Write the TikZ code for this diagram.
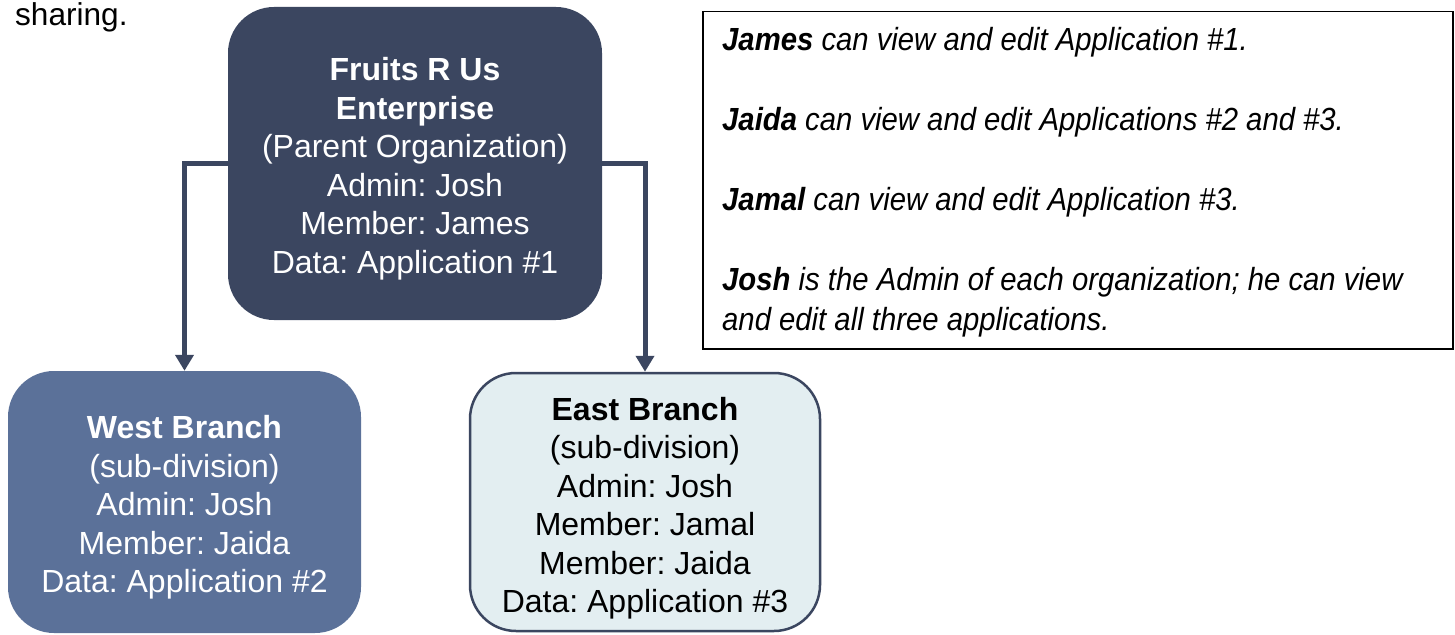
\documentclass[tikz,border=0pt]{standalone}
\usepackage{fontspec}
\setmainfont{Liberation Sans}
\newfontfamily\notefont[FakeStretch=0.915]{Liberation Sans}
\usetikzlibrary{arrows.meta}
\frenchspacing
\definecolor{dark}{HTML}{3B4660}
\definecolor{mid}{HTML}{5B7199}
\definecolor{pale}{HTML}{E3EEF1}
\begin{document}
\begin{tikzpicture}[x=1pt,y=-1pt,
  box/.style={rounded corners=46pt, align=center, inner sep=0pt,
    font=\frenchspacing\fontsize{32}{38.5}\selectfont},
  conn/.style={draw=dark, line width=5pt, -{Triangle[width=18pt,length=16pt]}}]
\useasboundingbox (0,0) rectangle (1455,634);
\fill[white] (0,0) rectangle (1455,634);
\node[anchor=base west, inner sep=0pt, font=\fontsize{31.6}{38.5}\selectfont] (sharing) at (15,26) {sharing.};
\node[box, fill=dark, text=white, minimum width=374pt, minimum height=313pt] (top) at (415,163.5)
  {\rule{0pt}{34pt}\textbf{Fruits R Us}\\ \textbf{Enterprise}\\ (Parent Organization)\\ Admin: Josh\\ Member: James\\ Data: Application \#1};
\node[box, fill=mid, text=white, minimum width=353pt, minimum height=262pt] (west) at (184.5,502)
  {\rule{0pt}{34pt}\textbf{West Branch}\\ (sub-division)\\ Admin: Josh\\ Member: Jaida\\ Data: Application \#2};
\node[box, fill=pale, draw=dark, line width=2.5pt, text=black, minimum width=350pt, minimum height=258pt] (east) at (645,502)
  {\rule{0pt}{36pt}\textbf{East Branch}\\ (sub-division)\\ Admin: Josh\\ Member: Jamal\\ Member: Jaida\\ Data: Application \#3};
\draw[conn] (top.west) -| (west.north);
\draw[conn] (top.east) -| (east.north);
\node[draw=black, line width=1.5pt, anchor=north west, minimum width=750pt, minimum height=337pt, inner sep=0pt] (note) at (702,11) {};
\node[anchor=north west, inner sep=0pt, align=left, font=\frenchspacing\notefont\itshape\fontsize{32}{40}\selectfont] (notetext) at (722,27.5)
  {\textbf{James} can view and edit Application \#1.\\[40pt]
   \textbf{Jaida} can view and edit Applications \#2 and \#3.\\[40pt]
   \textbf{Jamal} can view and edit Application \#3.\\[40pt]
   \textbf{Josh} is the Admin of each organization; he can view\\
   and edit all three applications.};
\end{tikzpicture}
\end{document}
